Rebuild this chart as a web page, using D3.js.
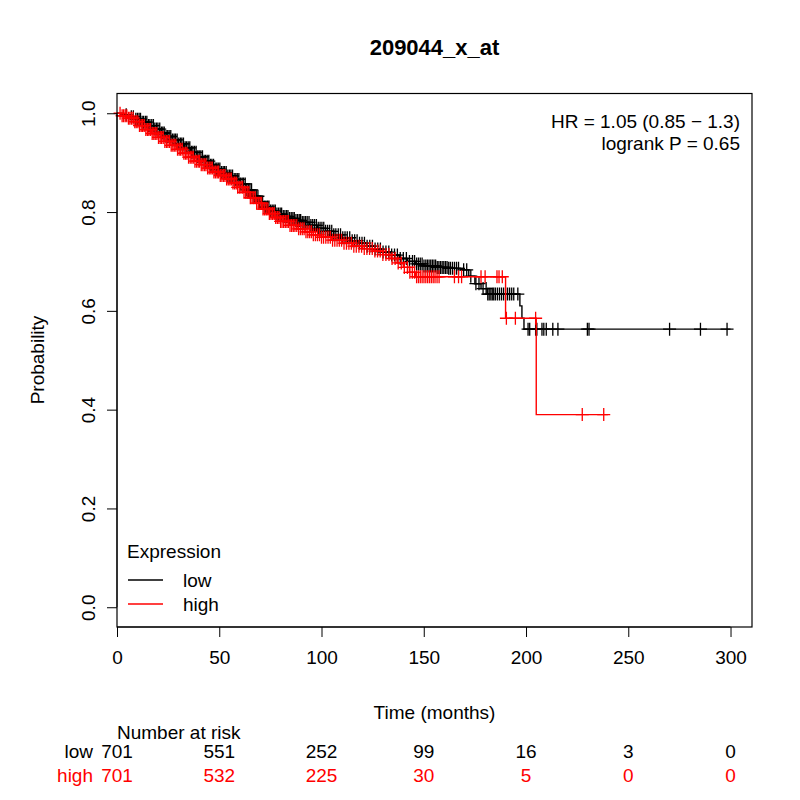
<!DOCTYPE html>
<html>
<head>
<meta charset="utf-8">
<script src="https://cdn.jsdelivr.net/npm/d3@7"></script>
<style>
  body { margin: 0; background: #fff; }
  svg { font-family: "Liberation Sans", Arial, Helvetica, sans-serif; }
</style>
</head>
<body>
<div id="chart"></div>
<script>
// Kaplan-Meier step points
const lowTime = [0, 3, 6, 9, 12, 15, 18, 21, 24, 27, 30, 33, 36, 39, 42, 45, 48, 51, 54, 57, 60, 63, 66, 69, 72, 75, 78, 81, 84, 87, 90, 94, 98, 102, 106, 110, 114, 118, 122, 126, 130, 134, 138, 142, 146, 150, 156, 162, 168, 172, 175, 178, 181, 197, 198, 199, 300];
const lowSurv = [1.0, 0.997, 0.993, 0.988, 0.982, 0.975, 0.968, 0.96, 0.953, 0.946, 0.938, 0.93, 0.921, 0.912, 0.903, 0.895, 0.887, 0.88, 0.873, 0.866, 0.857, 0.845, 0.832, 0.82, 0.81, 0.802, 0.796, 0.791, 0.787, 0.783, 0.779, 0.773, 0.767, 0.761, 0.754, 0.748, 0.742, 0.737, 0.731, 0.725, 0.719, 0.713, 0.706, 0.7, 0.695, 0.691, 0.688, 0.686, 0.683, 0.67, 0.655, 0.645, 0.634, 0.61, 0.585, 0.563, 0.563];

const highTime = [0, 2, 5, 8, 11, 14, 17, 20, 23, 26, 29, 32, 35, 38, 41, 44, 47, 50, 53, 56, 59, 62, 65, 68, 71, 74, 77, 80, 84, 88, 92, 96, 100, 105, 110, 115, 120, 125, 130, 134, 137, 140, 143, 146, 190, 205, 240];
const highSurv = [1.0, 0.995, 0.99, 0.983, 0.975, 0.967, 0.959, 0.951, 0.943, 0.935, 0.927, 0.919, 0.911, 0.903, 0.896, 0.889, 0.881, 0.874, 0.867, 0.859, 0.85, 0.84, 0.829, 0.818, 0.806, 0.797, 0.789, 0.781, 0.773, 0.766, 0.76, 0.754, 0.749, 0.743, 0.737, 0.731, 0.726, 0.721, 0.714, 0.706, 0.697, 0.688, 0.678, 0.669, 0.585, 0.39, 0.39];

// censoring times (+ marks)
const lowCensor = [4.5, 7, 8, 9.2, 10, 10.8, 11.5, 12.3, 13, 13.9, 14.6, 15.4, 16.1, 17, 17.8, 18.5, 19.3, 20, 20.9, 21.7, 22.4, 23.1, 24, 24.8, 25.5, 26.3, 27.1, 27.9, 28.6, 29.4, 30.2, 31, 31.7, 32.5, 33.3, 34, 34.8, 35.6, 36.4, 37.1, 37.9, 38.7, 39.5, 40.2, 41, 41.8, 42.6, 43.3, 44.1, 44.9, 45.7, 46.4, 47.2, 48, 48.8, 49.5, 50.3, 51.1, 51.9, 52.6, 53.4, 54.2, 55, 55.7, 56.5, 57.3, 58.1, 58.8, 59.6, 60.4, 61.2, 61.9, 62.7, 63.5, 64.3, 65, 65.8, 66.6, 67.4, 68.1, 68.9, 69.7, 70.5, 71.2, 72, 72.8, 73.6, 74.3, 75.1, 75.9, 76.7, 77.4, 78.2, 79, 79.8, 80.5, 81.3, 82.1, 82.9, 83.6, 84.4, 85.2, 86, 86.7, 87.5, 88.3, 89.1, 89.8, 90.6, 91.4, 92.2, 93, 93.9, 94.8, 95.7, 96.6, 97.5, 98.4, 99.3, 100.2, 101.1, 102, 103, 104, 105, 106, 107, 108.2, 109.3, 110.4, 111.5, 112.6, 113.8, 115, 116.2, 117.4, 118.6, 119.8, 121, 122.3, 123.6, 124.9, 126.2, 127.5, 128.8, 130.1, 131.5, 132.9, 134.3, 135.7, 137.1, 138.5, 140, 141.5, 143, 144.5, 145.5, 146.5, 147.4, 148.3, 149.2, 150.1, 151, 151.8, 152.6, 153.4, 154.2, 155, 155.8, 156.6, 157.4, 158.2, 159, 159.8, 160.6, 161.4, 162.2, 163, 164, 165, 166, 167, 169.5, 171, 173, 175.5, 177, 179, 180.5, 181.3, 182, 182.8, 183.5, 184.2, 185, 186, 187, 188, 189, 190, 191, 192, 193, 194, 196, 201, 201.8, 204.7, 205.3, 207.8, 208.7, 209.9, 213.1, 215.6, 230, 230.8, 270.2, 285.3, 298.3];
const highCensor = [1.5, 2.5, 3.2, 4, 4.8, 5.6, 6.3, 7.1, 7.9, 8.7, 9.4, 10.2, 11, 11.8, 12.5, 13.3, 14.1, 14.9, 15.6, 16.4, 17.2, 18, 18.7, 19.5, 20.3, 21.1, 21.8, 22.6, 23.4, 24.2, 24.9, 25.7, 26.5, 27.3, 28, 28.8, 29.6, 30.4, 31.1, 31.9, 32.7, 33.5, 34.2, 35, 35.8, 36.6, 37.3, 38.1, 38.9, 39.7, 40.4, 41.2, 42, 42.8, 43.5, 44.3, 45.1, 45.9, 46.6, 47.4, 48.2, 49, 49.7, 50.5, 51.3, 52.1, 52.8, 53.6, 54.4, 55.2, 55.9, 56.7, 57.5, 58.3, 59, 59.8, 60.6, 61.4, 62.1, 62.9, 63.7, 64.5, 65.2, 66, 66.8, 67.6, 68.3, 69.1, 69.9, 70.7, 71.4, 72.2, 73, 73.8, 74.5, 75.3, 76.1, 76.9, 77.6, 78.4, 79.2, 80, 80.7, 81.5, 82.3, 83.1, 83.8, 84.6, 85.4, 86.2, 87, 87.9, 88.8, 89.7, 90.6, 91.5, 92.4, 93.3, 94.2, 95.1, 96, 97, 98, 99, 100, 101, 102.1, 103.2, 104.3, 105.4, 106.5, 107.6, 108.7, 109.8, 111, 112.2, 113.4, 114.6, 115.8, 117, 118.3, 119.6, 120.9, 122.2, 123.5, 124.8, 126.1, 127.4, 128.7, 130, 131.5, 133, 134.5, 136, 137.5, 139, 140.5, 142, 143.2, 144.4, 145.5, 146.5, 147.4, 148.3, 149.2, 150.1, 151, 151.9, 152.8, 153.7, 154.6, 155.5, 156.5, 157.5, 165, 167, 168.5, 178, 180, 185.8, 186.8, 188.4, 190.4, 194.8, 204.7, 227.5, 238];

const groups = ["low", "high"];
const groupColors = ["#000000", "#ff0000"];
const riskTimes = [0, 50, 100, 150, 200, 250, 300];
const riskLow = [701, 551, 252, 99, 16, 3, 0];
const riskHigh = [701, 532, 225, 30, 5, 0, 0];
const xTicks = [0, 50, 100, 150, 200, 250, 300];
const yTicks = [0, 0.2, 0.4, 0.6, 0.8, 1.0];

const width = 800;
const height = 800;
const fs = 19;

const svg = d3.select("#chart").append("svg")
  .attr("width", width)
  .attr("height", height);

const xScale = d3.scaleLinear().domain([0, 310.5]).range([117, 752]);
const yScale = d3.scaleLinear().domain([-0.04, 1.04]).range([627, 93.5]);

// survival value at time t (step function)
function survAt(times, surv, t) {
  const i = d3.bisectRight(times, t) - 1;
  return surv[Math.max(0, i)];
}

const line = d3.line()
  .x((d) => xScale(d[0]))
  .y((d) => yScale(d[1]))
  .curve(d3.curveStepAfter);

const curves = [
  { times: lowTime, surv: lowSurv, censor: lowCensor, color: groupColors[0] },
  { times: highTime, surv: highSurv, censor: highCensor, color: groupColors[1] },
];

// draw low first, high on top
curves.forEach((c) => {
  svg.append("path")
    .datum(d3.zip(c.times, c.surv))
    .attr("d", line)
    .attr("fill", "none")
    .attr("stroke", c.color)
    .attr("stroke-width", 1.4);

  const m = 6.5;
  svg.append("g")
    .selectAll("path")
    .data(c.censor)
    .enter()
    .append("path")
    .attr("d", (t) => {
      const x = xScale(t);
      const y = yScale(survAt(c.times, c.surv, t));
      return `M${x - m},${y}H${x + m}M${x},${y - m}V${y + m}`;
    })
    .attr("stroke", c.color)
    .attr("stroke-width", 1.3)
    .attr("fill", "none");
});

// frame
svg.append("rect")
  .attr("x", 117).attr("y", 93.5)
  .attr("width", 752 - 117).attr("height", 627 - 93.5)
  .attr("fill", "none").attr("stroke", "#000").attr("stroke-width", 1.2);

// x axis
const xAxis = d3.axisBottom(xScale).tickValues(xTicks).tickSize(10).tickPadding(14).tickSizeOuter(0);
const gx = svg.append("g").attr("transform", "translate(0, 627)").call(xAxis);
gx.select(".domain").attr("d", `M${xScale(0)},0H${xScale(300)}`);
gx.selectAll("text").attr("font-size", fs).attr("font-family", "Liberation Sans, Arial, sans-serif").attr("fill", "#000");
gx.selectAll("line").attr("stroke", "#000");

// y axis, labels rotated like R
const yAxis = d3.axisLeft(yScale).tickValues(yTicks).tickSize(10).tickFormat(d3.format(".1f")).tickSizeOuter(0);
const gy = svg.append("g").attr("transform", "translate(117, 0)").call(yAxis);
gy.select(".domain").attr("d", `M0,${yScale(0)}V${yScale(1)}`);
gy.selectAll("line").attr("stroke", "#000");
gy.selectAll("text")
  .attr("font-size", fs)
  .attr("font-family", "Liberation Sans, Arial, sans-serif")
  .attr("fill", "#000")
  .attr("x", null)
  .attr("text-anchor", "middle")
  .attr("transform", "translate(-29, 0) rotate(-90)")
  .attr("y", 0)
  .attr("dy", "0.35em");

// titles
svg.append("text")
  .attr("x", 434.5).attr("y", 55)
  .attr("text-anchor", "middle")
  .attr("font-size", 22).attr("font-weight", "bold")
  .text("209044_x_at");

svg.append("text")
  .attr("x", 434.5).attr("y", 719)
  .attr("text-anchor", "middle")
  .attr("font-size", fs)
  .text("Time (months)");

svg.append("text")
  .attr("transform", "translate(44, 360) rotate(-90)")
  .attr("text-anchor", "middle")
  .attr("font-size", fs)
  .text("Probability");

// HR and logrank
svg.append("text")
  .attr("x", 740).attr("y", 128)
  .attr("text-anchor", "end")
  .attr("font-size", fs)
  .text("HR = 1.05 (0.85 \u2212 1.3)");
svg.append("text")
  .attr("x", 740).attr("y", 150)
  .attr("text-anchor", "end")
  .attr("font-size", fs)
  .text("logrank P = 0.65");

// legend
svg.append("text")
  .attr("x", 127).attr("y", 558)
  .attr("font-size", fs)
  .text("Expression");
groups.forEach((g, i) => {
  const y = 580 + i * 24;
  svg.append("line")
    .attr("x1", 128).attr("x2", 163)
    .attr("y1", y).attr("y2", y)
    .attr("stroke", groupColors[i]).attr("stroke-width", 1.3);
  svg.append("text")
    .attr("x", 183).attr("y", y + 7)
    .attr("font-size", fs)
    .text(g);
});

// number at risk table
svg.append("text")
  .attr("x", 117).attr("y", 739)
  .attr("font-size", fs)
  .text("Number at risk");

[riskLow, riskHigh].forEach((row, i) => {
  const y = 758 + i * 24;
  svg.append("text")
    .attr("x", 93).attr("y", y)
    .attr("text-anchor", "end")
    .attr("font-size", fs)
    .attr("fill", groupColors[i])
    .text(groups[i]);
  svg.append("g")
    .selectAll("text")
    .data(row)
    .enter()
    .append("text")
    .attr("x", (d, j) => xScale(riskTimes[j]))
    .attr("y", y)
    .attr("text-anchor", "middle")
    .attr("font-size", fs)
    .attr("fill", groupColors[i])
    .text((d) => d);
});
</script>
</body>
</html>
